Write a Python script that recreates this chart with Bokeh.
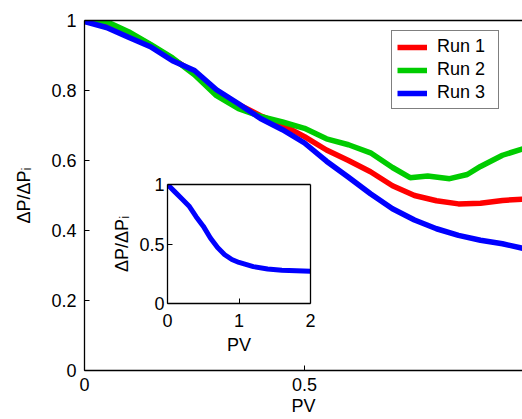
from bokeh.plotting import figure
from bokeh.models import Range1d, LinearAxis, FixedTicker, Legend, LegendItem
from bokeh.embed import file_html
from bokeh.resources import INLINE

# ---- data ----
x_run1 = [0, 0.05, 0.1, 0.15, 0.2, 0.25, 0.3, 0.35, 0.4, 0.45, 0.5, 0.55, 0.6, 0.65, 0.7, 0.75, 0.8, 0.85, 0.9, 0.95, 1.0]
run1 = [0.998, 0.99, 0.965, 0.93, 0.89, 0.852, 0.797, 0.76, 0.728, 0.702, 0.668, 0.63, 0.60, 0.568, 0.528, 0.50, 0.485, 0.476, 0.478, 0.486, 0.49]
x_run2 = [0, 0.05, 0.1, 0.15, 0.2, 0.25, 0.3, 0.35, 0.4, 0.45, 0.5, 0.55, 0.6, 0.65, 0.7, 0.74, 0.78, 0.83, 0.87, 0.9, 0.95, 1.0]
run2 = [1.0, 0.997, 0.968, 0.932, 0.893, 0.845, 0.785, 0.748, 0.726, 0.71, 0.692, 0.662, 0.645, 0.622, 0.58, 0.551, 0.556, 0.548, 0.56, 0.583, 0.615, 0.635]
x_run3 = [0, 0.05, 0.1, 0.15, 0.2, 0.25, 0.3, 0.35, 0.4, 0.45, 0.5, 0.55, 0.6, 0.65, 0.7, 0.75, 0.8, 0.85, 0.9, 0.95, 1.0]
run3 = [0.997, 0.98, 0.952, 0.925, 0.885, 0.857, 0.802, 0.762, 0.72, 0.688, 0.65, 0.598, 0.552, 0.505, 0.462, 0.43, 0.405, 0.386, 0.372, 0.362, 0.348]
series_names = ["Run 1", "Run 2", "Run 3"]

x_inset = [0, 0.1, 0.2, 0.3, 0.4, 0.5, 0.6, 0.7, 0.8, 0.9, 1.0, 1.2, 1.4, 1.6, 1.8, 2.0]
y_inset = [1.0, 0.94, 0.88, 0.82, 0.73, 0.65, 0.55, 0.47, 0.41, 0.37, 0.345, 0.31, 0.29, 0.28, 0.275, 0.27]

main_x_ticks = [0, 0.5, 1]
main_x_labels = ["0", "0.5", "1"]
main_y_ticks = [0, 0.2, 0.4, 0.6, 0.8, 1]
main_y_labels = ["0", "0.2", "0.4", "0.6", "0.8", "1"]
inset_x_ticks = [0, 1, 2]
inset_x_labels = ["0", "1", "2"]
inset_y_ticks = [0, 0.5, 1]
inset_y_labels = ["0", "0.5", "1"]

FONT = "Liberation Sans"
FS = "18px"
colors = ["#FF0000", "#00CC00", "#0000FF"]


def style_axis(ax, ticks, labels, standoff=6):
    ax.ticker = FixedTicker(ticks=ticks)
    ax.major_label_overrides = {t: l for t, l in zip(ticks, labels)}
    ax.major_tick_in = 5
    ax.major_tick_out = 0
    ax.minor_tick_in = 0
    ax.minor_tick_out = 0
    ax.axis_line_color = "black"
    ax.axis_line_width = 1.3
    ax.major_tick_line_color = "black"
    ax.major_tick_line_width = 1
    ax.major_label_text_font = FONT
    ax.major_label_text_font_size = FS
    ax.major_label_text_color = "black"
    ax.major_label_text_line_height = 1.0
    ax.major_label_standoff = standoff
    ax.axis_label_text_font = FONT
    ax.axis_label_text_font_style = "normal"
    ax.axis_label_text_color = "black"
    ax.axis_label_text_font_size = FS
    ax.axis_label_text_line_height = 1.0


def box_axis():
    ax = LinearAxis(ticker=FixedTicker(ticks=[]))
    ax.axis_line_color = "black"
    ax.axis_line_width = 1.3
    ax.major_tick_in = 0
    ax.major_tick_out = 0
    ax.minor_tick_in = 0
    ax.minor_tick_out = 0
    ax.major_label_standoff = 0
    return ax


# ---- main figure ----
p = figure(width=522, height=419, output_backend="svg", toolbar_location=None,
           x_range=Range1d(0, 0.9955), y_range=Range1d(0, 1),
           min_border_left=84, min_border_top=20, min_border_bottom=49, min_border_right=0,
           x_axis_label="PV", y_axis_label="ΔP/ΔPᵢ")
p.grid.visible = False
p.outline_line_color = None
p.background_fill_color = "white"
p.border_fill_color = "white"

style_axis(p.xaxis[0], main_x_ticks, main_x_labels, standoff=7)
style_axis(p.yaxis[0], main_y_ticks, main_y_labels, standoff=8)
p.xaxis[0].axis_label_standoff = 2
p.yaxis[0].axis_label_standoff = 14
p.add_layout(box_axis(), "above")

renderers = []
for xs, ys, c in zip([x_run1, x_run2, x_run3], [run1, run2, run3], colors):
    r = p.line(xs, ys, line_color=c, line_width=5.5)
    renderers.append(r)

legend = Legend(items=[LegendItem(label=n, renderers=[r]) for n, r in zip(series_names, renderers)],
                location=(307, 261))
legend.border_line_color = "black"
legend.border_line_width = 1
legend.background_fill_color = "white"
legend.background_fill_alpha = 1
legend.label_text_font = FONT
legend.label_text_font_size = FS
legend.label_text_color = "black"
legend.glyph_width = 30
legend.glyph_height = 20
legend.label_height = 20
legend.label_width = 56
legend.label_standoff = 10
legend.spacing = 2
legend.padding = 5
legend.margin = 0
p.add_layout(legend, "center")

# ---- inset ----
q = figure(width=213, height=186, output_backend="svg", toolbar_location=None,
           x_range=Range1d(0, 2), y_range=Range1d(0, 1),
           min_border_left=60, min_border_top=12, min_border_bottom=55, min_border_right=10,
           x_axis_label="PV", y_axis_label="ΔP/ΔPᵢ")
q.grid.visible = False
q.outline_line_color = None
q.background_fill_color = "white"
q.border_fill_alpha = 0
style_axis(q.xaxis[0], inset_x_ticks, inset_x_labels, standoff=10)
style_axis(q.yaxis[0], inset_y_ticks, inset_y_labels, standoff=3)
q.xaxis[0].axis_label_standoff = 5
q.yaxis[0].axis_label_standoff = 4
q.add_layout(box_axis(), "above")
q.add_layout(box_axis(), "right")
q.line(x_inset, y_inset, line_color="#0000FF", line_width=5)

q.styles = {"position": "absolute", "left": "107px", "top": "172px"}

open("out.html", "w").write(file_html([p, q], INLINE))
